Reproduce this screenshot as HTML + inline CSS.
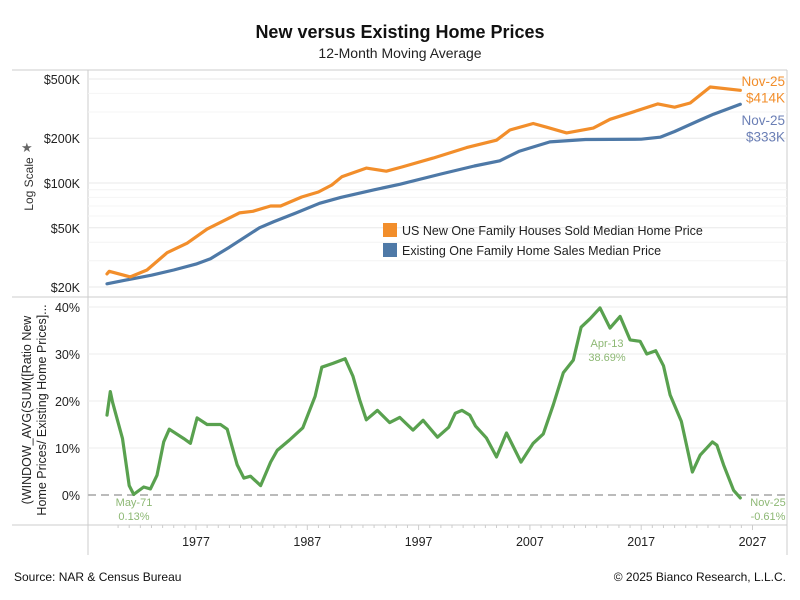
<!DOCTYPE html>
<html><head><meta charset="utf-8"><style>
body{margin:0;background:#fff;}
svg{display:block;font-family:"Liberation Sans",sans-serif;}
</style></head><body>
<svg id="chart" width="800" height="600" viewBox="0 0 800 600">
<text x="400" y="38" text-anchor="middle" font-size="18" font-weight="bold" fill="#111">New versus Existing Home Prices</text>
<text x="400" y="58" text-anchor="middle" font-size="14" fill="#222">12-Month Moving Average</text>
<g id="frame"></g>
<g id="grid"></g>
<g id="series"></g>
<g id="labels"></g>
<text transform="translate(33,184) rotate(-90)" text-anchor="middle" font-size="12" fill="#333">Log Scale</text>
<text x="21" y="152" font-size="13" fill="#666">★</text>
<text transform="translate(31,410) rotate(-90)" text-anchor="middle" font-size="12.5" fill="#222">(WINDOW_AVG(SUM([Ratio New</text>
<text transform="translate(46,410) rotate(-90)" text-anchor="middle" font-size="12.5" fill="#222">Home Prices/ Existing Home Prices]...</text>
<rect x="383" y="223" width="14" height="14" fill="#F28E2B"/>
<text x="402" y="235" font-size="12.5" fill="#222">US New One Family Houses Sold Median Home Price</text>
<rect x="383" y="243" width="14" height="14" fill="#4E79A7"/>
<text x="402" y="255" font-size="12.5" fill="#222">Existing One Family Home Sales Median Price</text>
<text x="14" y="581" font-size="12" fill="#111">Source: NAR &amp; Census Bureau</text>
<text x="786" y="581" text-anchor="end" font-size="12" fill="#111">© 2025 Bianco Research, L.L.C.</text>
</svg>
<script>
const newYears=[1969.0,1969.2,1971.1,1972.6,1974.4,1976.2,1978.0,1980.9,1982.1,1983.7,1984.6,1986.5,1988.0,1989.2,1990.1,1992.3,1994.1,1995.5,1998.3,2001.3,2004.0,2005.2,2007.3,2008.5,2010.3,2012.7,2014.2,2015.9,2018.5,2020.0,2021.4,2023.2,2025.9];
const newPrices=[24.5,25.5,23.4,26,34,39.4,49,63,64.5,70,70,80.5,87,97,110,126,120,128,147,173,194,227,251,237,217,234,268,294,340,323,345,442,420];
const existYears=[1969,1971,1973,1975,1977,1978.3,1980,1982.7,1984,1986,1988.1,1990,1993,1995.3,1999,2002,2004.3,2006,2008.8,2012,2017,2018.7,2020,2022.3,2023.5,2025.9];
const existPrices=[21,22.5,24,26,28.5,31,37,50,55,63,73,80,90,98,115,130,141,163,189,196,197,203,222,265,290,338];
const ratioYears=[1969.0,1969.3,1969.5,1969.7,1970.4,1971.0,1971.4,1972.3,1972.9,1973.5,1974.1,1974.6,1975.9,1976.5,1977.1,1978.0,1979.2,1979.8,1980.7,1981.3,1981.9,1982.8,1983.7,1984.3,1985.4,1986.6,1987.7,1988.3,1989.3,1990.4,1991.1,1991.7,1992.3,1993.3,1994.4,1995.3,1996.5,1997.4,1998.7,1999.7,2000.3,2000.9,2001.6,2002.1,2003.1,2004.0,2004.9,2006.2,2007.3,2008.2,2009.1,2010.0,2010.9,2011.6,2012.4,2013.3,2014.2,2015.1,2016.0,2016.9,2017.5,2018.3,2019.0,2019.6,2020.6,2021.6,2022.3,2023.4,2023.8,2024.4,2025.3,2025.9];
const ratioValues=[17,22,19.8,18,12,2,0.13,1.7,1.3,4.2,11.3,14,12,11,16.4,15,15,14,6.4,3.6,4,2,7,9.5,11.7,14.3,21,27.2,28,29,25.3,20.3,16,18,15.4,16.5,13.8,15.9,12.3,14.4,17.4,18,17,14.7,12.1,8.1,13.2,7,11,13,19.2,26,28.7,35.7,37.5,39.8,35.5,38,33,32.7,30,30.7,27.5,21.3,15.7,4.9,8.5,11.3,10.6,6.4,1,-0.61];
const xTicks=[1977,1987,1997,2007,2017,2027];
const priceTicks=[20,50,100,200,500];
const priceTickLabels=["$20K","$50K","$100K","$200K","$500K"];
const pctTicks=[0,10,20,30,40];

const NS="http://www.w3.org/2000/svg";
const X0=88,X1=787,T0=70,T1=297,B1=525;
const x=y=>196+(y-1977)*11.13;
const yP=v=>287-Math.log10(v/20)*148.8;
const yR=v=>495-v*4.7;
function mk(tag,attrs,parent,text){const e=document.createElementNS(NS,tag);for(const k in attrs)e.setAttribute(k,attrs[k]);if(text!==undefined)e.textContent=text;document.getElementById(parent).appendChild(e);return e;}

let e;
e=mk('line',{x1:12,x2:X1,y1:T0,y2:T0,stroke:'#ccc'},'frame');
e=mk('line',{x1:12,x2:X1,y1:T1,y2:T1,stroke:'#ccc'},'frame');
e=mk('line',{x1:12,x2:X1,y1:B1,y2:B1,stroke:'#ccc'},'frame');
e=mk('line',{x1:X0,x2:X0,y1:T0,y2:555,stroke:'#ccc'},'frame');
e=mk('line',{x1:X1,x2:X1,y1:T0,y2:555,stroke:'#ccc'},'frame');

[30,40,60,70,80,90,300,400].forEach(v=>{e=mk('line',{x1:X0,x2:X1,y1:yP(v),y2:yP(v),stroke:'#f4f4f4'},'grid');});
priceTicks.forEach((v,i)=>{
 e=mk('line',{x1:X0,x2:X1,y1:yP(v),y2:yP(v),stroke:'#e8e8e8'},'grid');
 e=mk('text',{x:80,y:yP(v)+5,'text-anchor':'end','font-size':12.5,fill:'#222'},'labels',priceTickLabels[i]);
});
pctTicks.forEach(v=>{
 if(v>0){e=mk('line',{x1:X0,x2:X1,y1:yR(v),y2:yR(v),stroke:'#ececec'},'grid');}
 e=mk('text',{x:80,y:yR(v)+5,'text-anchor':'end','font-size':12.5,fill:'#222'},'labels',v+'%');
});
e=mk('line',{x1:X0,x2:X1,y1:yR(0),y2:yR(0),stroke:'#bbb','stroke-width':2,'stroke-dasharray':'8,5'},'grid');
for(let yr=1970;yr<=2027;yr++){e=mk('line',{x1:x(yr),x2:x(yr),y1:B1,y2:B1+(yr%10==7?5:3),stroke:'#ccc'},'grid');}
xTicks.forEach(v=>{e=mk('text',{x:x(v),y:546,'text-anchor':'middle','font-size':12.5,fill:'#222'},'labels',v);});

function line(xs,vs,fy,color,name){
 const pts=xs.map((t,i)=>x(t).toFixed(1)+','+fy(vs[i]).toFixed(1)).join(' ');
 const p=mk('polyline',{points:pts,fill:'none',stroke:color,'stroke-width':3.2,'stroke-linejoin':'round','stroke-linecap':'round'},'series');
 
 
}
line(existYears,existPrices,yP,'#4E79A7','existing-price-line');
line(newYears,newPrices,yP,'#F28E2B','new-price-line');
line(ratioYears,ratioValues,yR,'#59A14F','ratio-line');

function ann(tx,ty,t1,t2,color,anchor,fs,name){
 e=mk('text',{x:tx,y:ty,'text-anchor':anchor,'font-size':fs,fill:color},'labels',t1);
 e=mk('text',{x:tx,y:ty+fs+3,'text-anchor':anchor,'font-size':fs,fill:color},'labels',t2);
}
const nl=newPrices.length-1, el=existPrices.length-1;
ann(785,86,'Nov-25','$'+Math.round(newPrices[nl]-6)+'K','#F28E2B','end',13.5,'new-end-label');
ann(785,125,'Nov-25','$'+Math.round(existPrices[el]-5)+'K','#6B7FB5','end',13.5,'existing-end-label');
ann(134,506,'May-71','0.13%','#8DB874','middle',11,'min-label');
ann(607,347,'Apr-13','38.69%','#8DB874','middle',11,'peak-label');
ann(768,506,'Nov-25','-0.61%','#8DB874','middle',11,'ratio-end-label');
</script>
</body></html>
